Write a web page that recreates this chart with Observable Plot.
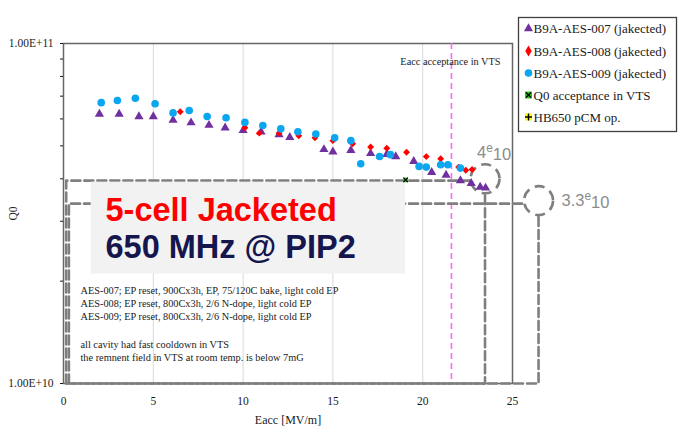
<!DOCTYPE html>
<html><head><meta charset="utf-8">
<script src="https://cdn.jsdelivr.net/npm/d3@7"></script>
<script src="https://cdn.jsdelivr.net/npm/@observablehq/plot@0.6"></script>
<style>
body{margin:0;background:#fff;}
#chart{position:relative;width:679px;height:433px;}
</style>
</head><body><div id="chart"></div>
<script>
// ---- data ----
const aes007Eacc = [2.0, 3.1, 4.2, 5.0, 6.1, 7.1, 8.1, 9.0, 10.0, 11.0, 12.0, 12.6, 14.5, 15.0, 16.0, 17.1, 18.0, 18.5, 19.5, 20.5, 21.3, 22.1, 22.7, 23.2, 23.5];
const aes007Q    = [6.2e10, 6.2e10, 6.1e10, 6.1e10, 5.95e10, 5.85e10, 5.75e10, 5.65e10, 5.55e10, 5.5e10, 5.4e10, 5.3e10, 4.88e10, 4.8e10, 4.85e10, 4.75e10, 4.72e10, 4.65e10, 4.5e10, 4.18e10, 4.1e10, 3.95e10, 3.88e10, 3.78e10, 3.76e10];
const aes008Eacc = [6.5, 10.1, 10.9, 12.0, 13.1, 14.0, 15.0, 16.1, 17.1, 18.0, 19.1, 20.2, 21.0, 22.0, 22.4, 22.75];
const aes008Q    = [6.3e10, 5.65e10, 5.45e10, 5.45e10, 5.35e10, 5.28e10, 5.18e10, 5.07e10, 4.96e10, 4.92e10, 4.79e10, 4.65e10, 4.58e10, 4.33e10, 4.24e10, 4.26e10];
const aes009Eacc = [2.1, 3.0, 4.0, 5.1, 6.1, 7.0, 8.0, 9.05, 10.1, 11.1, 12.1, 13.05, 14.05, 15.1, 16.0, 16.55, 17.6, 18.2, 19.8, 20.2, 21.0, 21.4, 22.1];
const aes009Q    = [6.7e10, 6.8e10, 6.9e10, 6.65e10, 6.25e10, 6.35e10, 6.1e10, 6.05e10, 5.86e10, 5.74e10, 5.61e10, 5.5e10, 5.42e10, 5.28e10, 5.18e10, 4.43e10, 4.65e10, 4.71e10, 4.35e10, 4.33e10, 4.4e10, 4.4e10, 4.3e10];
const q0AcceptEacc = [19.05];
const q0AcceptQ    = [3.97e10];

const xTicks = [0, 5, 10, 15, 20, 25];
const xGrid = [5, 10, 15, 20];
const yMajor = [1e10, 1e11];
const yMajorLabels = ["1.00E+10", "1.00E+11"];
const yMinor = [2e10, 3e10, 4e10, 5e10, 6e10, 7e10, 8e10, 9e10];
const eaccAcceptance = [21.6];
const specLabels = ["4e10", "3.3e10"];
const specLineQ = [3.95e10, 3.38e10];
const specCircleQ = [4.0e10, 3.45e10];
const specEacc = [23.47, 26.45];
const specLeft = [0.15, 0.3];
const legendLabels = ["B9A-AES-007 (jakected)", "B9A-AES-008 (jakected)", "B9A-AES-009 (jakected)", "Q0 acceptance in VTS", "HB650 pCM op."];
const titleLines = ["5-cell Jacketed", "650 MHz @ PIP2"];
const notes = [
  "AES-007; EP reset, 900Cx3h, EP, 75/120C bake, light cold EP",
  "AES-008; EP reset, 800Cx3h, 2/6 N-dope, light cold EP",
  "AES-009; EP reset, 800Cx3h, 2/6 N-dope, light cold EP",
  "all cavity had fast cooldown in VTS",
  "the remnent field in VTS at room temp. is below 7mG"
];
const titleBox = {x1: 1.54, x2: 19.05, y1: 2.10e10, y2: 3.91e10};

// ---- styles ----
const C007 = "#7030a0", C008 = "#ff0000", C009 = "#0aa6f0";
const GREY = "#7f7f7f";
const SERIF = "'Liberation Serif','Times New Roman',serif";
const SANS = "'Liberation Sans',Arial,sans-serif";

const s007 = aes007Eacc.map((x, i) => ({x, q: aes007Q[i]}));
const s008 = aes008Eacc.map((x, i) => ({x, q: aes008Q[i]}));
const s009 = aes009Eacc.map((x, i) => ({x, q: aes009Q[i]}));
const sAcc = q0AcceptEacc.map((x, i) => ({x, q: q0AcceptQ[i]}));

// dashed acceptance boxes (paths built from the spec values)
const rCirclePx = 14.5;
const boxPaths = [];
specLabels.forEach((lab, i) => {
  const xc = specEacc[i], q = specLineQ[i], x0 = specLeft[i];
  boxPaths.push({k: i + "a", x: x0, q: 1e10});
  boxPaths.push({k: i + "a", x: x0, q});
  boxPaths.push({k: i + "a", x: xc - 0.8, q});
  boxPaths.push({k: i + "b", x: xc, q: specCircleQ[i] * 0.895});
  boxPaths.push({k: i + "b", x: xc, q: 1e10});
  boxPaths.push({k: i + "b", x: x0, q: 1e10});
});
const circles = specLabels.map((t, i) => ({t, x: specEacc[i], q: specCircleQ[i]}));

const marks = [
  Plot.ruleX(xGrid, {stroke: "#d9d9d9", strokeWidth: 1}),
  Plot.frame({stroke: "#666", strokeWidth: 1.5}),
  Plot.ruleX(eaccAcceptance, {stroke: "#ff66ff", strokeWidth: 1.6, strokeDasharray: "6,4"}),
  Plot.line(boxPaths, {x: "x", y: "q", z: "k", stroke: GREY, strokeWidth: 2.6, strokeDasharray: "9,4"}),
  Plot.dot(circles, {x: "x", y: "q", r: rCirclePx, stroke: GREY, strokeWidth: 2.6, strokeDasharray: "10,6", fill: "none"}),
  Plot.text([circles[0]], {x: "x", y: "q", text: "t", dx: -8, dy: -21, textAnchor: "start", lineAnchor: "bottom", fill: "#8c8c8c", fontFamily: SANS, fontSize: 16.5}),
  Plot.text([circles[1]], {x: "x", y: "q", text: "t", dx: 23, dy: 5, textAnchor: "start", lineAnchor: "bottom", fill: "#8c8c8c", fontFamily: SANS, fontSize: 16.5}),
  Plot.rect([titleBox], {x1: "x1", x2: "x2", y1: "y1", y2: "y2", fill: "#f2f2f2"}),
  Plot.text([titleLines[0]], {frameAnchor: "top-left", dx: 42, dy: 177, textAnchor: "start", lineAnchor: "bottom", fill: "#ff0000", fontFamily: SANS, fontWeight: "bold", fontSize: 32.5}),
  Plot.text([titleLines[1]], {frameAnchor: "top-left", dx: 42, dy: 214, textAnchor: "start", lineAnchor: "bottom", fill: "#16164e", fontFamily: SANS, fontWeight: "bold", fontSize: 32.5}),
  ...notes.map((t, i) => Plot.text([t], {frameAnchor: "top-left", dx: 17, dy: [250, 263.3, 276.5, 304, 317][i], textAnchor: "start", lineAnchor: "bottom", fill: "#1a1a1a", fontFamily: SERIF, fontSize: 10.3})),
  Plot.text(["Eacc acceptance in VTS"], {frameAnchor: "top-right", dx: -12, dy: 21, textAnchor: "end", lineAnchor: "bottom", fill: "#1a1a1a", fontFamily: SERIF, fontSize: 10.3}),
  Plot.dot(s007, {x: "x", y: "q", symbol: "triangle", r: 3.4, fill: C007}),
  Plot.dot(s008, {x: "x", y: "q", symbol: "diamond2", r: 3.1, fill: C008}),
  Plot.dot(s009, {x: "x", y: "q", symbol: "circle", r: 3.8, fill: C009}),
  Plot.dot(sAcc, {x: "x", y: "q", symbol: "square", r: 2.6, fill: "#22cc22"}),
  Plot.dot(sAcc, {x: "x", y: "q", symbol: "times", r: 2.2, stroke: "#000", strokeWidth: 1.2}),
  Plot.axisY({ticks: yMajor, tickFormat: (d) => yMajorLabels[yMajor.indexOf(d)], tickSize: 3, tickPadding: 7, label: null, fontSize: 11.5}),
  Plot.axisY({ticks: yMinor, tickFormat: () => "", tickSize: 3, label: null}),
  Plot.axisX({ticks: xTicks, tickFormat: (d) => String(d), tickSize: 0, tickPadding: 13, label: null, fontSize: 11.5}),
  Plot.text(["Eacc [MV/m]"], {frameAnchor: "bottom", dy: 40, lineAnchor: "bottom", fontSize: 12, fill: "#1a1a1a"}),
  Plot.text(["Q0"], {frameAnchor: "left", dx: -50, rotate: -90, textAnchor: "middle", lineAnchor: "middle", fontSize: 11.5, fill: "#1a1a1a"})
];

const plot = Plot.plot({
  width: 679, height: 433,
  marginLeft: 63, marginRight: 167, marginTop: 43, marginBottom: 50,
  x: {domain: [0, 25]},
  y: {type: "log", domain: [1e10, 1e11]},
  style: {fontFamily: SERIF, fontSize: "11.5px", color: "#1a1a1a", background: "white", overflow: "visible"},
  marks
});
document.getElementById("chart").appendChild(plot);

// superscript "e" in the spec labels (real text, as tspans)
d3.select(plot).selectAll("text").each(function () {
  const t = this.textContent;
  if (specLabels.includes(t) && this.childElementCount === 0) {
    const [a, b] = t.split("e");
    const el = d3.select(this).text(null);
    el.append("tspan").text(a);
    el.append("tspan").attr("dy", "-0.45em").attr("font-size", "0.72em").text("e");
    el.append("tspan").attr("dy", "0.45em").text(b);
  }
});

// legend box (drawn into the same SVG)
const lg = d3.select(plot).append("g").attr("font-family", SERIF).attr("font-size", 13).attr("text-anchor", "start");
lg.append("rect").attr("x", 518.5).attr("y", 17.5).attr("width", 158).attr("height", 114)
  .attr("fill", "white").attr("stroke", "#404040").attr("stroke-width", 1.3);
const rowY = [28.5, 51, 73, 95, 117];
legendLabels.forEach((lab, i) => {
  const g = lg.append("g").attr("transform", `translate(528.5,${rowY[i]})`);
  if (i === 0) g.append("path").attr("d", d3.symbol(d3.symbolTriangle, 36)()).attr("fill", C007);
  if (i === 1) g.append("path").attr("d", d3.symbol(d3.symbolDiamond, 36)()).attr("fill", C008);
  if (i === 2) g.append("circle").attr("r", 3.8).attr("fill", C009);
  if (i === 3) {
    g.append("rect").attr("x", -3.5).attr("y", -3.5).attr("width", 7).attr("height", 7).attr("fill", "#22cc22");
    g.append("path").attr("d", "M-2.5,-2.5L2.5,2.5M2.5,-2.5L-2.5,2.5").attr("stroke", "#000").attr("stroke-width", 1.4);
  }
  if (i === 4) {
    g.append("rect").attr("x", -3.5).attr("y", -3.5).attr("width", 7).attr("height", 7).attr("fill", "#ffff00");
    g.append("path").attr("d", "M0,-3.5V3.5M-3.5,0H3.5").attr("stroke", "#000").attr("stroke-width", 1.4);
  }
  lg.append("text").attr("x", 533.5).attr("y", rowY[i]).attr("dy", "0.35em").attr("text-anchor", "start").attr("fill", "#1a1a1a").text(lab);
});
</script>
</body></html>
